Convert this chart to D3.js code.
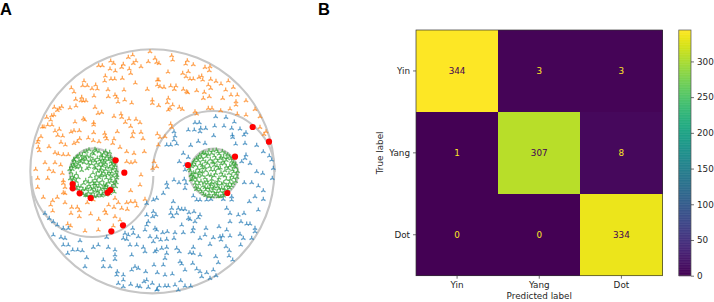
<!DOCTYPE html>
<html>
<head>
<meta charset="utf-8">
<script src="https://cdn.jsdelivr.net/npm/d3@7/dist/d3.min.js"></script>
<style>
  html, body { margin: 0; padding: 0; background: #fff; }
  svg { display: block; }
  text { font-family: "DejaVu Sans", sans-serif; }
</style>
</head>
<body>
<div id="chart"></div>
<script>
// Panel A samples. The outer circle has radius 366 in these units.
const yinPoints = [[-7,359],[-59,349],[-72,342],[8,339],[-12,329],[13,327],[-49,331],[-57,324],[-125,331],[-116,324],[-161,317],[-150,317],[-87,321],[-92,312],[-34,314],[-69,307],[-65,294],[-127,307],[-111,301],[-141,286],[-124,277],[-113,277],[-143,271],[-90,279],[-51,265],[15,274],[19,274],[15,259],[-205,271],[-209,257],[-195,257],[-170,259],[-181,248],[-165,247],[-243,250],[-235,238],[-133,245],[-85,244],[-15,246],[-175,226],[-132,224],[-112,229],[-107,222],[-103,208],[-83,214],[-62,205],[0,214],[0,204],[19,197],[-230,216],[-212,222],[-214,212],[-207,211],[-199,212],[-229,196],[-247,190],[-294,192],[-272,194],[-279,188],[-285,183],[-172,192],[-163,174],[-152,177],[-115,165],[-94,172],[-92,162],[-295,169],[-302,167],[-317,162],[-207,158],[-203,154],[-232,148],[-176,146],[-176,139],[-70,157],[-49,156],[-81,147],[-37,146],[-65,135],[-305,154],[-314,139],[-301,139],[-325,133],[-330,133],[-279,126],[-292,121],[-235,122],[-244,118],[-219,122],[-334,104],[-342,94],[-284,108],[-269,106],[-192,100],[-176,116],[-143,114],[-141,104],[-137,97],[-105,119],[-57,117],[-60,104],[-34,117],[-28,98],[15,112],[-115,97],[-119,84],[-97,72],[-218,98],[-225,89],[-235,84],[-274,87],[-261,79],[-177,92],[-160,89],[-344,87],[-342,72],[-310,74],
  [58,347],[61,334],[20,324],[105,332],[100,322],[123,320],[173,314],[158,312],[171,302],[47,298],[91,294],[108,299],[101,284],[113,277],[123,277],[140,282],[148,286],[151,274],[175,276],[191,270],[206,262],[228,271],[23,254],[35,252],[55,256],[71,256],[66,246],[93,246],[103,239],[106,236],[133,242],[156,237],[168,259],[175,249],[171,224],[153,219],[220,244],[243,252],[236,229],[255,229],[211,219],[251,209],[251,199],[281,212],[48,219],[45,206],[61,199],[53,189],[48,184],[81,192],[90,186],[168,189],[179,189],[205,182],[233,187],[255,172],[308,186],[323,164],[281,169],[128,179],[133,172],[55,142],[58,132],[23,102],[38,104],[18,79],[323,132],[341,119],[335,111],
  [-339,62],[-292,56],[-282,52],[-267,50],[-252,50],[-77,59],[-55,54],[-24,59],[-52,29],[-64,26],[-77,29],[-322,26],[-292,26],[-275,19],[-350,6],[-310,6],[-297,-1],[-270,-6],[-314,-21],[-344,-21],[-267,-28],[-267,-36],[-34,-11],[5,29],[1,9],[13,14],[-344,-48],[-262,-48],[-262,-66],[-327,-78],[-285,-78],[-299,-88],[-305,-101],[-299,-119],[-262,-94],[-242,-108],[-225,-108],[-219,-118],[-244,-126],[-219,-136],[-185,-128],[-161,-144],[-143,-118],[-139,-126],[-131,-101],[-115,-108],[-102,-94],[-92,-111],[-75,-114],[-77,-94],[-65,-91],[-52,-91],[-47,-104],[-65,-58],[-22,-84],[-37,-41],[-112,-136],[-117,-164],[-97,-146],[-254,-158],[-245,-164],[-202,-179],[-162,-176],[-195,-94],[-177,-86],[-112,-81],[-267,-64]];

const yangPoints = [[190,164],[221,162],[128,146],[141,146],[108,124],[126,124],[145,129],[160,129],[187,136],[215,136],[238,129],[263,127],[246,148],[143,119],[65,119],[68,106],[281,116],[275,109],[184,107],[240,109],[241,102],[43,79],[55,79],[73,82],[115,78],[138,90],[158,84],[250,82],[278,84],[313,78],[348,88],[65,94],
  [-322,-126],[-309,-141],[-297,-151],[-285,-161],[-267,-171],[-252,-171],[-297,-191],[-274,-198],[-262,-201],[-267,-221],[-252,-221],[-239,-236],[-254,-246],[-224,-236],[-210,-238],[-217,-208],[-197,-259],[-202,-286],[-162,-221],[-177,-228],[-137,-198],[-132,-228],[-147,-266],[-112,-236],[-112,-251],[-112,-264],[-127,-286],[-82,-186],[-72,-191],[-59,-171],[-57,-186],[-42,-196],[-87,-201],[-77,-204],[-67,-221],[-47,-221],[-22,-176],[-17,-161],[-12,-151],[11,-131],[3,-121],[-17,-131],[3,-86],[-17,-96],[-7,-196],[13,-176],[13,-198],[-27,-228],[-22,-241],[8,-241],[-62,-251],[-52,-286],[-42,-291],[-62,-296],[-147,-286],[-105,-301],[-107,-311],[-87,-311],[-87,-326],[-102,-336],[-87,-346],[-65,-339],[-45,-344],[-37,-346],[-20,-301],[5,-281],[15,-304],[-17,-326],[-25,-331],[0,-336],[15,-354],[-12,-348],
  [93,54],[108,42],[81,29],[98,19],[98,4],[65,-26],[80,-34],[96,-24],[101,-36],[43,-36],[45,-48],[98,-51],[33,-66],[13,-81],[63,-91],[58,-111],[78,-111],[98,-114],[55,-126],[88,-114],[73,-126],[61,-136],[1,-136],[110,-124],[125,-121],[143,-131],[138,-139],[108,-141],[113,-144],[128,-151],[123,-171],[121,-181],[88,-161],[93,-184],[68,-184],[45,-181],[31,-184],[8,-171],[25,-206],[3,-211],[43,-204],[65,-201],[143,-201],[158,-191],[161,-171],[200,-166],[223,-176],[183,-199],[173,-219],[203,-196],[211,-194],[206,-206],[233,-194],[263,-189],[273,-201],[298,-201],[265,-221],[221,-226],[231,-238],[230,-254],[241,-266],[190,-256],[198,-274],[123,-228],[113,-244],[123,-246],[143,-251],[73,-231],[81,-241],[43,-228],[28,-231],[13,-236],[43,-246],[38,-261],[83,-271],[88,-278],[121,-276],[98,-296],[133,-293],[143,-301],[148,-316],[163,-304],[183,-296],[173,-321],[191,-313],[38,-311],[60,-308],[33,-281],[21,-344],[38,-344],[48,-344],[68,-341],[85,-328],[98,-344],[115,-344],[78,-356],[13,-356],[276,-34],[298,-34],[313,-1],[331,-6],[360,-21],[318,-44],[308,-76],[333,-58],[291,-91],[333,-84],[318,-116],[223,-111],[233,-126],[258,-131],[275,-126],[266,-151],[233,-151],[283,-158],[293,-158],[308,-171],[308,-181],[281,49],[278,39],[293,24],[268,29],[333,59],[351,46],[358,34],[363,9],[238,-76],[238,-86],[213,-84],[176,-84],[163,-86],[123,-74],[143,-86],[133,-86]];

const yinDotPoints = [[-190,65],[-168,62],[-205,58],[-180,56],[-160,59],[-146,54],[-218,50],[-196,47],[-176,52],[-150,46],[-135,49],[-228,42],[-208,38],[-186,44],[-165,40],[-142,37],[-125,43],[-234,33],[-214,29],[-198,35],[-172,31],[-155,27],[-132,34],[-118,30],[-238,24],[-222,21],[-205,26],[-182,22],[-160,18],[-140,25],[-122,20],[-243,15],[-226,11],[-190,13],[-170,9],[-150,16],[-128,12],[-112,17],[-240,6],[-212,3],[-196,8],[-164,0],[-140,5],[-120,7],[-108,2],[-244,-3],[-228,-8],[-178,-5],[-152,-9],[-130,-2],[-110,-6],[-240,-14],[-186,-16],[-160,-18],[-142,-12],[-118,-15],[-106,-20],[-236,-24],[-222,-19],[-200,-27],[-172,-23],[-150,-28],[-126,-22],[-112,-28],[-240,-33],[-206,-36],[-180,-31],[-158,-37],[-132,-33],[-116,-38],[-232,-42],[-214,-46],[-190,-41],[-168,-45],[-146,-40],[-122,-46],[-226,-52],[-200,-54],[-176,-50],[-155,-55],[-134,-50],[-118,-56],[-218,-60],[-192,-63],[-170,-58],[-144,-62],[-128,-66],[-208,-68],[-184,-70],[-160,-67],[-138,-71],[-196,-73],[-174,-76],[-152,-74],[-164,-60],[-182,-54],[-148,-50],[-138,-20],[-125,-10],[-146,-2],[-168,-12],[-174,12],[-154,8],[-136,14],[-186,32],[-210,48],[-150,36],[-128,57],[-220,32],[-232,14],[-176,-38],[-196,-50],[-140,-44],
  [-198,60],[-172,66],[-154,48],[-140,60],[-224,44],[-202,42],[-178,36],[-158,34],[-126,38],[-113,36],[-230,26],[-212,36],[-192,24],[-168,24],[-146,20],[-116,24],[-236,18],[-216,14],[-156,2],[-134,-8],[-114,10],[-122,-2],[-106,-12],[-248,6],[-234,-18],[-246,-22],[-166,-30],[-154,-14],[-124,-30],[-108,-34],[-228,-30],[-192,-32],[-172,-38],[-138,-40],[-110,-46],[-222,-44],[-208,-54],[-186,-48],[-160,-46],[-128,-54],[-114,-62],[-212,-62],[-178,-64],[-150,-68],[-132,-60],[-200,-72],[-166,-74],[-142,-50],[-236,36],[-136,44],[-124,28],[-146,30]];

const yangDotPoints = [[170,62],[192,64],[210,60],[154,56],[178,54],[200,52],[226,50],[142,48],[162,44],[186,46],[214,42],[236,38],[132,38],[152,34],[174,36],[196,30],[222,33],[244,26],[124,26],[144,22],[166,24],[186,18],[206,22],[232,16],[250,12],[118,14],[136,8],[158,12],[176,4],[198,8],[218,2],[240,4],[114,2],[130,-4],[150,-2],[168,-10],[190,-6],[210,-12],[230,-6],[252,-8],[116,-12],[138,-16],[158,-20],[178,-24],[200,-20],[222,-24],[244,-20],[120,-24],[146,-30],[166,-36],[188,-34],[208,-38],[232,-34],[250,-30],[128,-36],[152,-44],[174,-48],[196,-46],[216,-52],[238,-44],[138,-50],[160,-56],[182,-60],[204,-60],[226,-56],[148,-62],[170,-68],[192,-70],[212,-68],[160,-72],[180,-76],[204,-76],[130,18],[148,42],[204,38],[222,14],[180,28],[160,2],[140,-8],[198,-28],[176,-12],[214,-34],[128,-20],[238,-14],[156,-34],[194,16],[240,20],[168,50],[216,24],[186,-46],[200,-52],[124,-4],[138,32],[176,-40],[150,18],[228,-44],[244,-2],[206,-4],[134,-28],[166,-50],[220,-66],[150,54],[232,44],[118,-10],[186,4],
  [182,62],[160,54],[218,54],[190,38],[138,42],[206,44],[238,30],[126,32],[160,28],[184,26],[212,30],[250,22],[120,20],[150,10],[172,14],[228,8],[246,14],[110,8],[142,0],[186,-14],[204,10],[256,0],[124,-16],[150,-12],[164,-28],[218,-14],[234,-24],[254,-18],[116,-26],[140,-38],[178,-34],[196,-38],[222,-42],[242,-36],[130,-46],[158,-48],[184,-52],[208,-50],[232,-50],[144,-56],[172,-58],[194,-62],[216,-60],[154,-68],[186,-68],[198,-76],[226,-64],[170,-76],[214,-74],[132,-54],[196,58],[224,40]];

const misclassified = [[301,133],[350,89],[-110,33],[-84,-4],[-239,-38],[-239,-51],[-218,-66],[-185,-80],[-134,-64],[-126,-56],[-88,-162],[-123,-180],[107,19],[248,44],[225,-65]];

// Outline circles as centre x, centre y, radius
const outerCircle = [0, 0, 366];
const yinLobe = [-180, -14, 183];
const yangLobe = [184, -2, 183];
const yinEye = [-176, -3, 72];
const yangEye = [184, -5, 73];

// Panel B
const classLabels = ["Yin", "Yang", "Dot"];
const confusion = [
    [344, 3, 3],
    [1, 307, 8],
    [0, 0, 334]
];
const colorbarTicks = [0, 50, 100, 150, 200, 250, 300];

const width = 714, height = 302;

const svg = d3.select("#chart").append("svg")
    .attr("width", width)
    .attr("height", height);

// ---- Panel A ----
const x = d3.scaleLinear().domain([-366, 366]).range([30.33, 274.33]);
const y = d3.scaleLinear().domain([-366, 366]).range([293.33, 49.33]);
const unit = (x.range()[1] - x.range()[0]) / 732;

const panelA = svg.append("g");

function circlePath(c, a0, a1) {
    const p = d3.path();
    p.arc(x(c[0]), y(c[1]), c[2] * unit, a0, a1);
    return p.toString();
}

const outlines = [
    circlePath(outerCircle, 0, 2 * Math.PI),
    circlePath(yinLobe, 0, Math.PI),
    circlePath(yangLobe, Math.PI, 2 * Math.PI),
    circlePath(yinEye, 0, 2 * Math.PI),
    circlePath(yangEye, 0, 2 * Math.PI)
];

panelA.selectAll("path.outline")
    .data(outlines)
    .join("path")
    .attr("class", "outline")
    .attr("d", d => d)
    .attr("fill", "none")
    .attr("stroke", "#c6c6c6")
    .attr("stroke-width", 2.1);

// three spoked marker, like matplotlib's tri_up
const spoke = 2.5;
const triMarker = `M0,0V${-spoke}M0,0L${-spoke * 0.87},${spoke * 0.5}M0,0L${spoke * 0.87},${spoke * 0.5}`;

function drawSamples(points, color) {
    panelA.append("g")
        .selectAll("path")
        .data(points)
        .join("path")
        .attr("d", triMarker)
        .attr("transform", d => `translate(${x(d[0])},${y(d[1])})`)
        .attr("fill", "none")
        .attr("stroke", color)
        .attr("stroke-width", 1.3)
        .attr("stroke-opacity", 0.7);
}

drawSamples(yinPoints, "#ff7f0e");
drawSamples(yangPoints, "#1f77b4");
drawSamples(yinDotPoints, "#2ca02c");
drawSamples(yangDotPoints, "#2ca02c");

panelA.append("g")
    .selectAll("circle")
    .data(misclassified)
    .join("circle")
    .attr("cx", d => x(d[0]))
    .attr("cy", d => y(d[1]))
    .attr("r", 3.1)
    .attr("fill", "#ff0000");

// ---- Panel B ----
const axLeft = 416, axRight = 662.5, axTop = 30, axBottom = 275.7;
const fontSize = 8.8;
const textColor = "#262626";

const bandX = d3.scaleBand().domain(classLabels).range([axLeft, axRight]);
const bandY = d3.scaleBand().domain(classLabels).range([axTop, axBottom]);
const color = d3.scaleSequential(d3.interpolateViridis).domain([0, 344]);

const cells = confusion.flatMap((row, i) => row.map((v, j) => ({
    trueLabel: classLabels[i],
    predicted: classLabels[j],
    value: v
})));

const panelB = svg.append("g");

panelB.selectAll("rect.cell")
    .data(cells)
    .join("rect")
    .attr("class", "cell")
    .attr("x", d => bandX(d.predicted))
    .attr("y", d => bandY(d.trueLabel))
    .attr("width", bandX.bandwidth())
    .attr("height", bandY.bandwidth())
    .attr("fill", d => color(d.value))
    .attr("shape-rendering", "crispEdges");

panelB.selectAll("text.count")
    .data(cells)
    .join("text")
    .attr("class", "count")
    .attr("x", d => bandX(d.predicted) + bandX.bandwidth() / 2)
    .attr("y", d => bandY(d.trueLabel) + bandY.bandwidth() / 2)
    .attr("dy", "0.36em")
    .attr("text-anchor", "middle")
    .attr("font-size", fontSize)
    .attr("fill", d => d.value > 172 ? "#440154" : "#fde725")
    .text(d => d.value);

panelB.append("rect")
    .attr("x", axLeft)
    .attr("y", axTop)
    .attr("width", axRight - axLeft)
    .attr("height", axBottom - axTop)
    .attr("fill", "none")
    .attr("stroke", "#333")
    .attr("stroke-width", 0.7);

function styleAxis(g) {
    g.select(".domain").remove();
    g.selectAll("line").attr("stroke", "#333").attr("stroke-width", 0.7);
    g.selectAll("text")
        .attr("font-size", fontSize)
        .attr("fill", textColor)
        .style("font-family", '"DejaVu Sans", sans-serif');
}

svg.append("g")
    .attr("transform", `translate(${axLeft},0)`)
    .call(d3.axisLeft(bandY).tickSize(3).tickPadding(3))
    .call(styleAxis);

svg.append("g")
    .attr("transform", `translate(0,${axBottom})`)
    .call(d3.axisBottom(bandX).tickSize(3).tickPadding(3))
    .call(styleAxis);

svg.append("text")
    .attr("x", (axLeft + axRight) / 2)
    .attr("y", 299)
    .attr("text-anchor", "middle")
    .attr("font-size", fontSize)
    .attr("fill", textColor)
    .text("Predicted label");

svg.append("text")
    .attr("transform", `translate(383,${(axTop + axBottom) / 2}) rotate(-90)`)
    .attr("text-anchor", "middle")
    .attr("font-size", fontSize)
    .attr("fill", textColor)
    .text("True label");

// Colorbar
const barLeft = 678.8, barRight = 691;
const barScale = d3.scaleLinear().domain([0, 344]).range([axBottom, axTop]);

svg.append("g")
    .selectAll("rect")
    .data(d3.range(0, 344))
    .join("rect")
    .attr("x", barLeft)
    .attr("y", d => barScale(d + 1))
    .attr("width", barRight - barLeft)
    .attr("height", d => barScale(d) - barScale(d + 1) + 0.5)
    .attr("fill", d => color(d));

svg.append("rect")
    .attr("x", barLeft)
    .attr("y", axTop)
    .attr("width", barRight - barLeft)
    .attr("height", axBottom - axTop)
    .attr("fill", "none")
    .attr("stroke", "#555")
    .attr("stroke-width", 0.7);

svg.append("g")
    .attr("transform", `translate(${barRight},0)`)
    .call(d3.axisRight(barScale).tickValues(colorbarTicks).tickSize(3).tickPadding(3))
    .call(styleAxis);

// Panel letters
const panelLetters = ["A", "B"];
svg.selectAll("text.letter")
    .data(panelLetters)
    .join("text")
    .attr("class", "letter")
    .attr("x", (d, i) => i === 0 ? 0 : 318)
    .attr("y", 15)
    .attr("font-size", 16.5)
    .attr("font-weight", "bold")
    .style("font-family", '"Liberation Sans", sans-serif')
    .attr("fill", "#000")
    .text(d => d);
</script>
</body>
</html>
